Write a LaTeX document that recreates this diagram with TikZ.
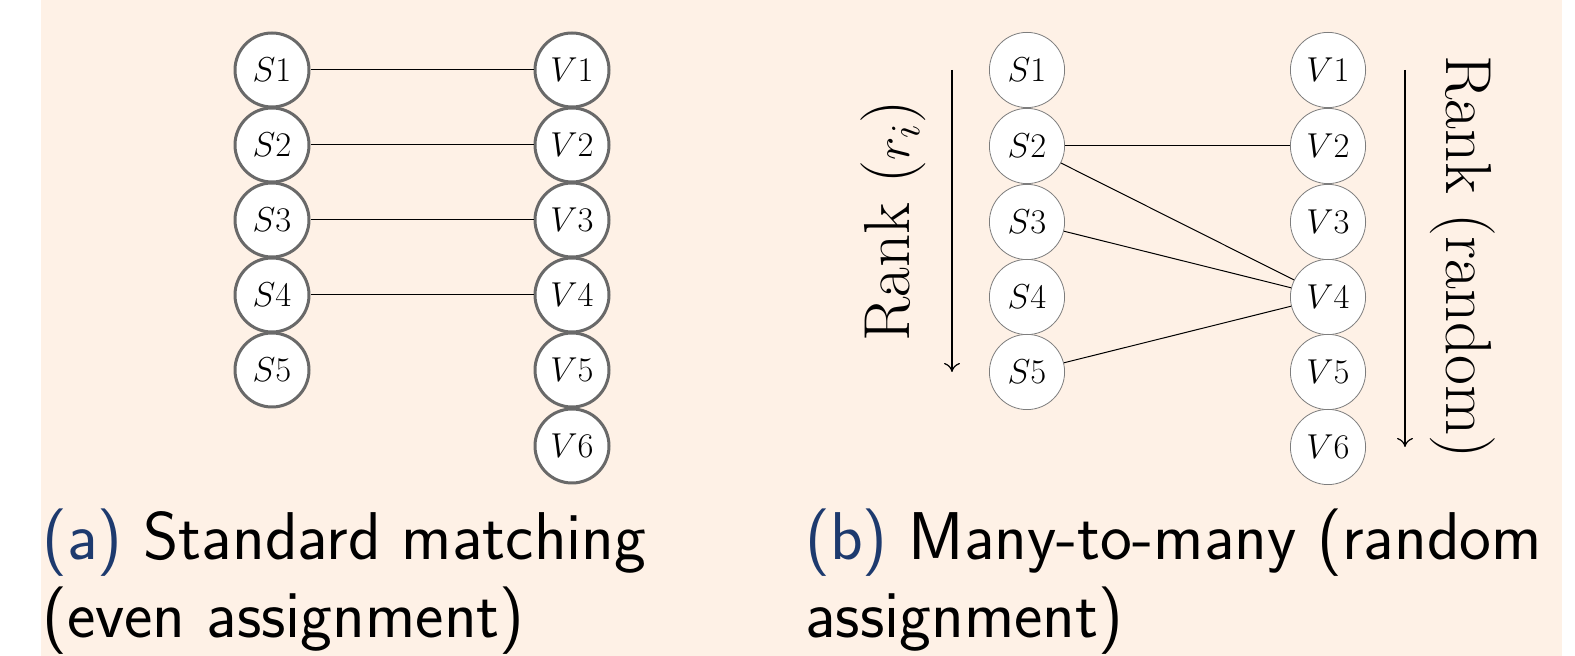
\documentclass[tikz,border=0pt]{standalone}
\usepackage{tikz}
\usetikzlibrary{arrows.meta}
\definecolor{peach}{RGB}{254,241,230}
\definecolor{capblue}{RGB}{29,58,110}
\definecolor{ringgray}{RGB}{105,105,105}
\definecolor{thingray}{RGB}{125,125,125}

\begin{document}
\begin{tikzpicture}[x=0.5pt,y=0.5pt,yscale=-1,xscale=1,
  agent/.style={circle,draw=ringgray,line width=1.5pt,fill=white,minimum size=37pt,inner sep=0pt,font=\fontsize{18}{22}\selectfont},
  rankagent/.style={circle,draw=thingray,line width=0.4pt,fill=white,minimum size=37.6pt,inner sep=0pt,font=\fontsize{18}{22}\selectfont},
  pair/.style={line width=0.5pt},
  rankarrow/.style={-{To[length=4.5pt,width=8pt]},line width=0.6pt},
  ranklabel/.style={font=\fontsize{32.5}{38}\selectfont,inner sep=0pt},
  caption/.style={font=\sffamily\fontsize{33.8}{39}\selectfont,align=left,anchor=base west,inner sep=0pt}]
\useasboundingbox (0,0) rectangle (1575,656);

%Background
\fill[white] (0,0) rectangle (1575,656);
\fill[peach] (41,0) rectangle (1562,656);

%(a) left column
\node[agent] (aS1) at (272,70) {$S1$};
\node[agent] (aS2) at (272,145) {$S2$};
\node[agent] (aS3) at (272,220) {$S3$};
\node[agent] (aS4) at (272,295) {$S4$};
\node[agent] (aS5) at (272,370) {$S5$};
%(a) right column
\node[agent] (aV1) at (572,70) {$V1$};
\node[agent] (aV2) at (572,145) {$V2$};
\node[agent] (aV3) at (572,220) {$V3$};
\node[agent] (aV4) at (572,295) {$V4$};
\node[agent] (aV5) at (572,370) {$V5$};
\node[agent] (aV6) at (572,446) {$V6$};
%(a) matching
\draw[pair] (aS1) -- (aV1);
\draw[pair] (aS2) -- (aV2);
\draw[pair] (aS3) -- (aV3);
\draw[pair] (aS4) -- (aV4);

%(b) left column
\node[rankagent] (bS1) at (1027,70) {$S1$};
\node[rankagent] (bS2) at (1027,146) {$S2$};
\node[rankagent] (bS3) at (1027,222) {$S3$};
\node[rankagent] (bS4) at (1027,297) {$S4$};
\node[rankagent] (bS5) at (1027,372) {$S5$};
%(b) right column
\node[rankagent] (bV1) at (1328,70) {$V1$};
\node[rankagent] (bV2) at (1328,146) {$V2$};
\node[rankagent] (bV3) at (1328,222) {$V3$};
\node[rankagent] (bV4) at (1328,297) {$V4$};
\node[rankagent] (bV5) at (1328,372) {$V5$};
\node[rankagent] (bV6) at (1328,447) {$V6$};
%(b) assignment
\draw[pair] (bS2) -- (bV2);
\draw[pair] (bS2) -- (bV4);
\draw[pair] (bS3) -- (bV4);
\draw[pair] (bS5) -- (bV4);

%Rank arrows
\coordinate (rankS top) at (952,70);
\coordinate (rankS end) at (952,372);
\draw[rankarrow] (rankS top) -- (rankS end);
\coordinate (rankV top) at (1405,70);
\coordinate (rankV end) at (1405,447);
\draw[rankarrow] (rankV top) -- (rankV end);

% Text Node
\node[ranklabel,rotate=90] (rankS) at (893,221) {Rank ($r_i$)};
% Text Node
\node[ranklabel,rotate=-90] (rankV) at (1463,257) {Rank (random)};

% Captions
\node[caption] (capA) at (42,638) {{\color{capblue}(a)} Standard matching\\(even assignment)};
\node[caption] (capB) at (805,638) {{\color{capblue}(b)} Many-to-many (random\\assignment)};

\end{tikzpicture}
\end{document}
